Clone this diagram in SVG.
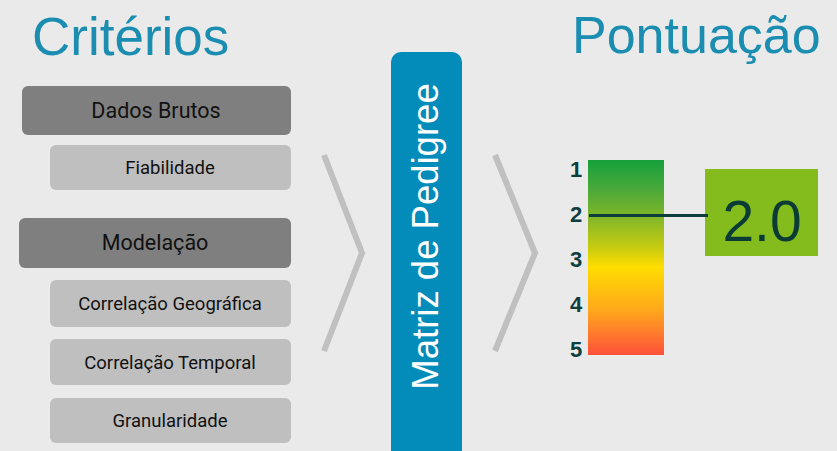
<svg xmlns="http://www.w3.org/2000/svg" width="837" height="451" viewBox="0 0 837 451">
<defs>
<style>
.title{font-family:"Liberation Sans",Arial,sans-serif;font-size:53px;fill:#1A8DB0}
.dark rect{fill:#7F7F7F}
.light rect{fill:#BFBFBF}
.lbl{font-family:Roboto,"Liberation Sans",sans-serif;fill:#111;text-anchor:middle}
.chev{fill:none;stroke:#C0C0C0;stroke-width:6}
.num{font-family:"Liberation Sans",Arial,sans-serif;font-weight:bold;font-size:22px;fill:#0E3F3F;text-anchor:middle}
</style>
<linearGradient id="scale" x1="0" y1="0" x2="0" y2="1">
<stop offset="0" stop-color="#15A03C"/>
<stop offset="0.15" stop-color="#4AA93A"/>
<stop offset="0.3" stop-color="#84B828"/>
<stop offset="0.45" stop-color="#C8CC10"/>
<stop offset="0.55" stop-color="#FFDD00"/>
<stop offset="0.77" stop-color="#FFA81C"/>
<stop offset="1" stop-color="#FF503A"/>
</linearGradient>
</defs>
<rect width="837" height="451" fill="#EAEAEA"/>
<text class="title" x="32" y="55">Critérios</text>
<text class="title" x="572" y="53" style="font-size:52px">Pontuação</text>

<g id="dados-brutos" class="dark"><rect x="22" y="86" width="269" height="49" rx="6"/><text class="lbl" x="156" y="118" font-size="21.5">Dados Brutos</text></g>
<g id="fiabilidade" class="light"><rect x="50" y="145" width="241" height="45" rx="6"/><text class="lbl" x="170" y="174" font-size="18.5">Fiabilidade</text></g>
<g id="modelacao" class="dark"><rect x="19" y="218" width="272" height="50" rx="6"/><text class="lbl" x="155" y="250" font-size="21.5">Modelação</text></g>
<g id="correlacao-geografica" class="light"><rect x="50" y="280" width="241" height="47" rx="6"/><text class="lbl" x="170" y="310" font-size="18.5">Correlação Geográfica</text></g>
<g id="correlacao-temporal" class="light"><rect x="50" y="339" width="241" height="46" rx="6"/><text class="lbl" x="170" y="369" font-size="18.5">Correlação Temporal</text></g>
<g id="granularidade" class="light"><rect x="50" y="398" width="241" height="45" rx="6"/><text class="lbl" x="170" y="427" font-size="18.5">Granularidade</text></g>

<g id="matriz">
<rect x="391" y="52" width="71" height="420" rx="10" fill="#038BBA"/>
<text x="0" y="0" transform="translate(438,236.5) rotate(-90)" font-family="Liberation Sans,Arial,sans-serif" font-size="36.5" fill="#FFFFFF" text-anchor="middle">Matriz de Pedigree</text>
</g>

<g id="escala">
<rect x="588" y="160" width="76" height="195" fill="url(#scale)"/>
<text class="num" x="576" y="177">1</text>
<text class="num" x="576" y="222">2</text>
<text class="num" x="576" y="267">3</text>
<text class="num" x="576" y="312">4</text>
<text class="num" x="576" y="357">5</text>
</g>

<g id="pontuacao-valor">
<rect x="705" y="169" width="113" height="87" fill="#84BC1E"/>
<text x="762" y="241" font-family="Liberation Sans,Arial,sans-serif" font-size="57" fill="#0A3B35" text-anchor="middle">2.0</text>
</g>

<g id="connectors">
<polyline class="chev" points="324,155 362,253 324,351"/>
<polyline class="chev" points="495,155 535,253 495,351"/>
<line x1="589" y1="215.5" x2="708" y2="215.5" stroke="#0D3D3A" stroke-width="3"/>
</g>
</svg>
